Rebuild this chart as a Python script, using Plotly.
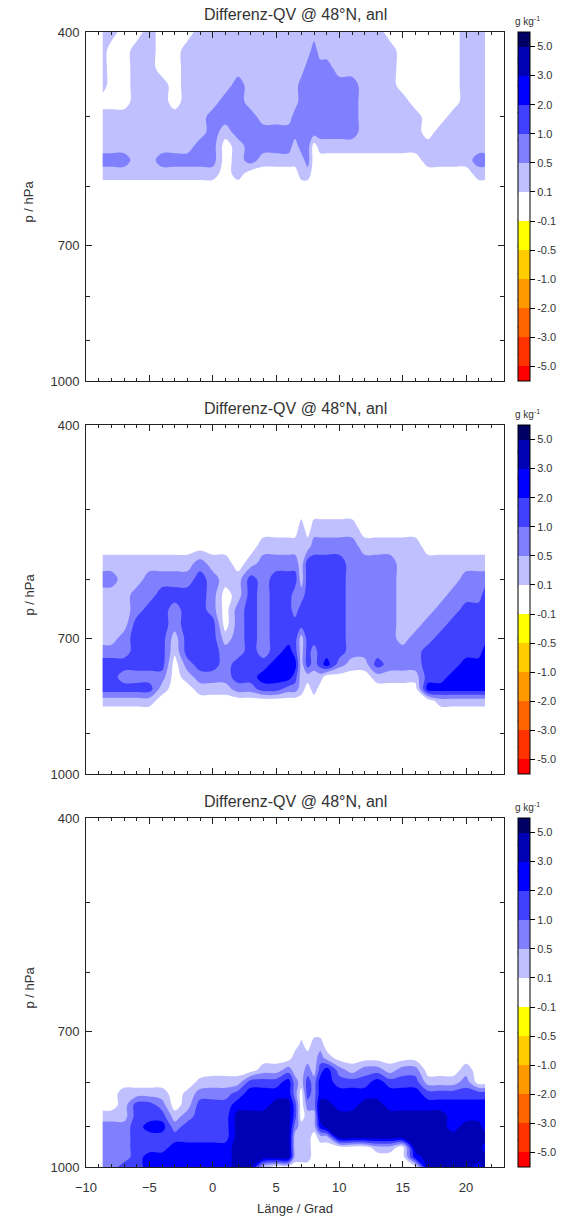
import numpy as np
import plotly.graph_objects as go

# ---------------- data (g/kg) ----------------
LON = [-8.7, -8, -7, -6, -5, -4, -3, -2, -1, 0, 1, 2, 3, 4, 5, 6, 6.5, 7, 7.5, 8,
       8.5, 9, 10, 11, 12, 13, 14, 15, 16, 17, 18, 19, 20, 21, 21.5]

P1 = [400, 420, 440, 460, 480, 500, 520, 540, 560, 580, 600, 1000]
QV1 = [
    [0.3, 0.3, 0, 0, 0.3, 0, 0, 0, 0.3, 0.3, 0.3, 0.3, 0.3, 0.3, 0.3, 0.3, 0.3, 0.3, 0.3, 0.3, 0.3, 0.3, 0.3, 0.3, 0.3, 0.3, 0, 0, 0, 0, 0, 0, 0.3, 0.3, 0.3],
    [0.3, 0, 0, 0.3, 0.3, 0, 0, 0.3, 0.3, 0.3, 0.3, 0.3, 0.3, 0.3, 0.3, 0.3, 0.3, 0.3, 0.3, 0.75, 0.3, 0.3, 0.3, 0.3, 0.3, 0.3, 0.3, 0, 0, 0, 0, 0, 0.3, 0.3, 0.3],
    [0.3, 0, 0, 0.3, 0.3, 0, 0, 0.3, 0.3, 0.3, 0.3, 0.3, 0.3, 0.3, 0.3, 0.3, 0.3, 0.3, 0.75, 0.75, 0.75, 0.75, 0.3, 0.3, 0.3, 0.3, 0.3, 0, 0, 0, 0, 0, 0.3, 0.3, 0.3],
    [0.3, 0, 0, 0.3, 0.3, 0.3, 0, 0.3, 0.3, 0.3, 0.3, 0.75, 0.3, 0.3, 0.3, 0.3, 0.3, 0.75, 0.75, 0.75, 0.75, 0.75, 0.75, 0.75, 0.3, 0.3, 0.3, 0, 0, 0, 0, 0, 0.3, 0.3, 0.3],
    [0, 0, 0, 0.3, 0.3, 0.3, 0, 0.3, 0.3, 0.3, 0.75, 0.75, 0.3, 0.3, 0.3, 0.3, 0.3, 0.75, 0.75, 0.75, 0.75, 0.75, 0.75, 0.75, 0.3, 0.3, 0.3, 0.3, 0, 0, 0, 0, 0.3, 0.3, 0.3],
    [0.3, 0.3, 0.3, 0.3, 0.3, 0.3, 0.3, 0.3, 0.3, 0.75, 0.75, 0.75, 0.75, 0.3, 0.3, 0.3, 0.75, 0.75, 0.75, 0.75, 0.75, 0.75, 0.75, 0.75, 0.3, 0.3, 0.3, 0.3, 0.3, 0, 0, 0.3, 0.3, 0.3, 0.3],
    [0.3, 0.3, 0.3, 0.3, 0.3, 0.3, 0.3, 0.3, 0.3, 0.75, 0.3, 0.75, 0.75, 0.75, 0.75, 0.75, 0.75, 0.75, 0.75, 0.75, 0.75, 0.75, 0.75, 0.75, 0.3, 0.3, 0.3, 0.3, 0.3, 0, 0.3, 0.3, 0.3, 0.3, 0.3],
    [0.3, 0.3, 0.3, 0.3, 0.3, 0.3, 0.3, 0.3, 0.75, 0.75, 0, 0.3, 0.75, 0.75, 0.75, 0.75, 0.3, 0.75, 0.75, 0, 0.3, 0.3, 0.3, 0.3, 0.3, 0.3, 0.3, 0.3, 0.3, 0.3, 0.3, 0.3, 0.3, 0.3, 0.3],
    [0.75, 0.75, 0.75, 0.3, 0.3, 0.75, 0.75, 0.75, 0.75, 0.75, 0, 0.3, 0.75, 0.3, 0.3, 0.3, 0.3, 0.3, 0.75, 0, 0, 0, 0, 0, 0, 0, 0, 0, 0, 0.3, 0.3, 0.3, 0.3, 0.75, 0.75],
    [0.3, 0.3, 0.3, 0.3, 0.3, 0.3, 0.3, 0.3, 0.3, 0.3, 0, 0.3, 0, 0, 0, 0, 0, 0.3, 0.3, 0, 0, 0, 0, 0, 0, 0, 0, 0, 0, 0, 0, 0, 0, 0.3, 0.3],
    [0] * 35,
    [0] * 35,
]

P2 = [400, 500, 525, 550, 575, 600, 625, 650, 675, 700, 725, 750, 775, 800, 825, 850, 1000]
QV2 = [
    [0] * 35,
    [0] * 35,
    [0, 0, 0, 0, 0, 0, 0, 0, 0, 0, 0, 0, 0, 0, 0, 0, 0, 0.3, 0, 0.3, 0.3, 0.3, 0.3, 0.3, 0, 0, 0, 0, 0, 0, 0, 0, 0, 0, 0],
    [0, 0, 0, 0, 0, 0, 0, 0, 0, 0, 0, 0, 0, 0.3, 0.3, 0.3, 0.3, 0.3, 0.3, 0.75, 0.75, 0.75, 0.75, 0.75, 0.3, 0.3, 0.3, 0.3, 0.3, 0, 0, 0, 0, 0, 0],
    [0.3, 0.3, 0.3, 0.3, 0.3, 0.3, 0.3, 0.3, 0.75, 0.3, 0.3, 0, 0.3, 0.75, 0.75, 0.75, 0.75, 0.3, 1.5, 1.5, 1.5, 1.5, 1.5, 0.75, 0.75, 0.75, 0.75, 0.3, 0.3, 0.3, 0.3, 0.3, 0.3, 0.3, 0.3],
    [0.75, 0.75, 0.3, 0.3, 0.75, 0.75, 0.75, 0.75, 1.5, 0.75, 0.3, 0.3, 1.5, 0.75, 1.5, 1.5, 1.5, 0.3, 1.5, 1.5, 1.5, 1.5, 1.5, 0.75, 0.75, 0.75, 0.75, 0.3, 0.3, 0.3, 0.3, 0.3, 0.75, 0.75, 0.75],
    [0.3, 0.3, 0.3, 0.75, 0.75, 1.5, 1.5, 1.5, 1.5, 0.75, 0, 0.3, 1.5, 0.75, 1.5, 1.5, 0.75, 0.75, 1.5, 1.5, 1.5, 1.5, 1.5, 0.75, 0.75, 0.75, 0.75, 0.3, 0.3, 0.3, 0.3, 0.75, 0.75, 0.75, 1.5],
    [0.3, 0.3, 0.3, 0.75, 1.5, 1.5, 0.75, 1.5, 1.5, 0.75, 0, 0.75, 1.5, 0.75, 1.5, 1.5, 0.75, 1.5, 1.5, 1.5, 1.5, 1.5, 1.5, 0.75, 0.75, 0.75, 0.75, 0.3, 0.3, 0.3, 0.75, 0.75, 1.5, 1.5, 1.5],
    [0.3, 0.3, 0.3, 1.5, 1.5, 1.5, 0.75, 1.5, 1.5, 1.5, 0, 0.75, 1.5, 0.75, 1.5, 1.5, 1.5, 1.5, 1.5, 1.5, 1.5, 1.5, 1.5, 0.75, 0.75, 0.75, 0.75, 0.3, 0.3, 0.75, 0.75, 1.5, 1.5, 1.5, 1.5],
    [0.3, 0.3, 0.75, 1.5, 1.5, 1.5, 0.3, 1.5, 1.5, 1.5, 0.3, 0.75, 1.5, 0.75, 1.5, 1.5, 1.5, 0.3, 1.5, 1.5, 1.5, 1.5, 1.5, 0.75, 0.75, 0.75, 0.75, 0.3, 0.75, 0.75, 1.5, 1.5, 1.5, 1.5, 1.5],
    [0.75, 0.75, 0.75, 1.5, 1.5, 1.5, 0.2, 1.5, 1.5, 1.5, 0.75, 0.75, 1.5, 0.75, 1.5, 2.5, 1.5, 0.3, 1.5, 0.75, 1.5, 1.5, 1.5, 0.75, 0.75, 0.75, 0.75, 0.75, 0.75, 1.5, 1.5, 1.5, 1.5, 1.5, 2.5],
    [1.5, 1.5, 1.5, 1.5, 1.5, 1.5, 0, 0.75, 1.5, 1.5, 0.75, 1.5, 1.5, 1.5, 2.5, 2.5, 2.5, 0.3, 1.5, 0.75, 1.5, 2.5, 0.75, 0.3, 0.3, 1.5, 0.75, 0.75, 0.75, 1.5, 1.5, 1.5, 2.5, 2.5, 2.5],
    [1.5, 1.5, 0.75, 0.75, 0.75, 0.75, 0, 0.3, 0.75, 0.75, 0.75, 1.5, 1.5, 2.5, 2.5, 2.5, 1.5, 0.3, 0.3, 0.3, 0.3, 0, 0, 0, 0, 0.3, 0.3, 0.3, 0.3, 1.5, 1.5, 2.5, 2.5, 2.5, 2.5],
    [1.5, 1.5, 1.5, 1.5, 1.5, 0.3, 0, 0, 0.3, 0.3, 0.3, 0.75, 0.75, 1.5, 1.5, 0.75, 0.75, 0.3, 0, 0.3, 0, 0, 0, 0, 0, 0, 0, 0, 0, 2.5, 2.5, 2.5, 2.5, 2.5, 2.5],
    [0.3, 0.3, 0.3, 0.3, 0.3, 0, 0, 0, 0, 0, 0, 0, 0, 0, 0, 0, 0, 0, 0, 0, 0, 0, 0, 0, 0, 0, 0, 0, 0, 0, 0.3, 0.3, 0.3, 0.3, 0.3],
    [0] * 35,
    [0] * 35,
]

P3 = [400, 700, 725, 750, 775, 800, 825, 850, 875, 900, 925, 950, 975, 1000]
QV3 = [
    [0] * 35,
    [0] * 35,
    [0, 0, 0, 0, 0, 0, 0, 0, 0, 0, 0, 0, 0, 0, 0, 0, 0, 0.2, 0, 0.3, 0.3, 0, 0, 0, 0, 0, 0, 0, 0, 0, 0, 0, 0, 0, 0],
    [0, 0, 0, 0, 0, 0, 0, 0, 0, 0, 0, 0, 0, 0, 0, 0, 0.3, 0.3, 0.3, 0.3, 0.75, 0.3, 0, 0, 0, 0, 0, 0, 0, 0, 0, 0, 0, 0, 0],
    [0, 0, 0, 0, 0, 0, 0, 0, 0, 0, 0, 0, 0, 0.3, 0.3, 0.75, 0.3, 0.3, 0.75, 0.3, 1.5, 2.5, 0.75, 0.3, 0.75, 0.75, 0.3, 0.75, 0.75, 0, 0, 0, 0.3, 0, 0],
    [0, 0, 0, 0, 0, 0, 0, 0, 0.2, 0.3, 0.3, 0.3, 1.5, 1.5, 1.5, 2.5, 0.75, 0.3, 1.5, 0.75, 2.5, 2.5, 1.5, 1.5, 1.5, 2.5, 1.5, 1.5, 1.5, 0.3, 0.3, 0.3, 0.75, 0, 0],
    [0, 0, 0.3, 0.3, 0.3, 0.3, 0, 0.2, 0.75, 0.75, 0.75, 1.5, 2.5, 2.5, 2.5, 2.5, 0.75, 0, 1.5, 0.75, 2.5, 2.5, 2.5, 2.5, 2.5, 2.5, 2.5, 2.5, 2.5, 1.5, 1.5, 1.5, 1.5, 1.5, 1.5],
    [0, 0, 0.3, 1.5, 1.5, 0.75, 0, 0.3, 1.5, 1.5, 1.5, 2.5, 2.5, 2.5, 4, 4, 1.5, 0, 0.75, 0.75, 4, 4, 2.5, 2.5, 4, 4, 2.5, 2.5, 2.5, 2.5, 2.5, 2.5, 2.5, 2.5, 2.5],
    [0.3, 0.3, 0.3, 1.5, 1.5, 1.5, 0.3, 0.75, 1.5, 1.5, 1.5, 4, 4, 4, 4, 4, 1.5, 0, 0.3, 0.3, 4, 4, 4, 4, 4, 4, 4, 4, 4, 4, 4, 2.5, 2.5, 2.5, 2.5],
    [0.75, 0.75, 0.75, 1.5, 2.5, 2.5, 0.75, 1.5, 1.5, 1.5, 1.5, 4, 4, 4, 4, 4, 0.75, 0.3, 0.3, 0.3, 2.5, 4, 4, 4, 4, 4, 4, 4, 4, 4, 4, 2.5, 4, 4, 2.5],
    [0.75, 0.75, 0.75, 1.5, 1.5, 1.5, 1.5, 1.5, 1.5, 1.5, 1.5, 4, 4, 4, 4, 4, 0.3, 0.3, 0.3, 0, 0.3, 0.3, 4, 4, 4, 4, 4, 4, 4, 4, 4, 4, 4, 4, 4],
    [0.75, 0.75, 0.75, 1.5, 1.5, 1.5, 2.5, 2.5, 2.5, 2.5, 2.5, 4, 4, 4, 4, 4, 0.3, 0.3, 0.3, 0, 0, 0, 0, 0, 0, 0.3, 0.3, 0, 4, 4, 4, 4, 4, 4, 2.5],
    [0.75, 0.75, 0.75, 1.5, 2.5, 2.5, 2.5, 2.5, 2.5, 2.5, 2.5, 4, 4, 4, 4, 4, 0.3, 0.3, 0.3, 0, 0, 0, 0, 0, 0, 0, 0, 0, 2.5, 4, 4, 4, 4, 4, 4],
    [0.75, 0.75, 1.5, 1.5, 2.5, 2.5, 2.5, 2.5, 2.5, 2.5, 2.5, 4, 4, 0.3, 0, 0, 0, 0, 0, 0, 0, 0, 0, 0, 0, 0, 0, 0, 0, 4, 4, 4, 4, 2.5, 4],
]

LEVELS = [-5, -3, -2, -1, -0.5, -0.1, 0.1, 0.5, 1, 2, 3, 5]
LEVEL_LABELS = ["-5.0", "-3.0", "-2.0", "-1.0", "-0.5", "-0.1", "0.1", "0.5", "1.0", "2.0", "3.0", "5.0"]
COLORS = ["#ff0000", "#ff3300", "#ff6600", "#ff9900", "#ffcc00", "#ffff00", "#ffffff",
          "#c0c0ff", "#8080ff", "#4040ff", "#0000ff", "#0000b4", "#000064"]
TITLE = "Differenz-QV @ 48°N, anl"

# ---------------- layout geometry ----------------
FIG_W, FIG_H = 569, 1221
M_L, M_R, M_T, M_B = 86, 54, 32, 54
PLOT_W = FIG_W - M_L - M_R
PLOT_H = FIG_H - M_T - M_B
PANEL_TOP = [32, 425, 818]
PANEL_H = 349
FONT = "Liberation Sans, Arial, Helvetica, sans-serif"
TXT = "#333333"
AX = "#222222"


def ypap(px):
    return (FIG_H - M_B - px) / PLOT_H


def xpap(px):
    return (px - M_L) / PLOT_W


# class-index space: level boundaries map to 0.5 ... 11.5, band k centred on k
BV = [-7.0] + LEVELS + [7.0]
BT = [k - 0.5 for k in range(len(BV))]
NCOL = len(COLORS)
WHITE_IDX = COLORS.index("#ffffff")
CS_FULL = [[k / (NCOL - 1), c] for k, c in enumerate(COLORS)]
POS_COLORS = COLORS[WHITE_IDX:]
CS_POS = [[k / (len(POS_COLORS) - 1), c] for k, c in enumerate(POS_COLORS)]
TICKV = [k + 0.5 for k in range(len(LEVELS))]

fig = go.Figure()
panels = [(P1, QV1), (P2, QV2), (P3, QV3)]
CB_X0, CB_X1 = 529, 541

for i, (pp, qq) in enumerate(panels):
    t = np.interp(np.array(qq, dtype=float), BV, BT)
    top = PANEL_TOP[i]
    xa = "x" if i == 0 else f"x{i+1}"
    ya = "y" if i == 0 else f"y{i+1}"
    # field (only the positive levels occur in the data)
    fig.add_trace(go.Contour(
        x=LON, y=pp, z=t, xaxis=xa, yaxis=ya,
        autocontour=False,
        contours=dict(start=WHITE_IDX + 0.5, end=NCOL - 1.5, size=1,
                      coloring="fill", showlines=False),
        line=dict(width=0, smoothing=1.0),
        colorscale=CS_POS, showscale=False, hoverinfo="skip",
    ))
    # colour key with the full level set (placed outside the axis range)
    fig.add_trace(go.Contour(
        x=[40, 41], y=[500, 600], z=[[0, NCOL - 1], [0, NCOL - 1]],
        xaxis=xa, yaxis=ya,
        autocontour=False,
        contours=dict(start=0.5, end=NCOL - 1.5, size=1, coloring="fill", showlines=False),
        line=dict(width=0),
        colorscale=CS_FULL, hoverinfo="skip",
        colorbar=dict(
            x=xpap(CB_X0), xanchor="left", xpad=0,
            y=ypap(top + PANEL_H / 2), yanchor="middle", ypad=0,
            len=PANEL_H / PLOT_H, lenmode="fraction",
            thickness=CB_X1 - CB_X0, thicknessmode="pixels",
            outlinewidth=1, outlinecolor="#000000",
            tickmode="array", tickvals=TICKV, ticktext=LEVEL_LABELS,
            ticks="outside", ticklen=5, tickwidth=1, tickcolor="#000000",
            tickfont=dict(family=FONT, size=11, color=TXT),
        ),
    ))

layout = dict(
    width=FIG_W, height=FIG_H,
    margin=dict(l=M_L, r=M_R, t=M_T, b=M_B, pad=0),
    paper_bgcolor="white", plot_bgcolor="white",
    showlegend=False,
    font=dict(family=FONT, size=13, color=TXT),
)

annotations = []
shapes = []
for i in range(3):
    top = PANEL_TOP[i]
    sfx = "" if i == 0 else str(i + 1)
    dom = [ypap(top + PANEL_H), ypap(top)]
    layout["xaxis" + sfx] = dict(
        domain=[0, 1], range=[-10, 23], anchor="y" + sfx,
        tickmode="linear", tick0=-10, dtick=5,
        ticks="inside", ticklen=6, tickwidth=1, tickcolor=AX,
        minor=dict(dtick=1, tick0=-10, ticks="inside", ticklen=3, tickwidth=1, tickcolor=AX),
        showline=True, linecolor=AX, linewidth=1, mirror="allticks",
        showgrid=False, zeroline=False,
        showticklabels=(i == 2),
        tickfont=dict(family=FONT, size=13, color=TXT),
        ticklabelstandoff=8,
    )
    layout["yaxis" + sfx] = dict(
        domain=dom, type="log", range=[np.log10(1000), np.log10(400)],
        anchor="x" + sfx,
        tickmode="array", tickvals=[400, 700, 1000], ticktext=["400", "700", "1000"],
        ticks="inside", ticklen=6, tickwidth=1, tickcolor=AX,
        minor=dict(tickmode="array", tickvals=[500, 600, 800, 900], ticks="inside",
                   ticklen=4, tickwidth=1, tickcolor=AX),
        showline=True, linecolor=AX, linewidth=1, mirror="allticks",
        showgrid=False, zeroline=False,
        tickfont=dict(family=FONT, size=13, color=TXT),
        ticklabelstandoff=3,
    )
    annotations.append(dict(
        text=TITLE, xref="paper", yref="paper", x=0.5, y=ypap(top - 17),
        xanchor="center", yanchor="middle", showarrow=False,
        font=dict(family=FONT, size=16, color=TXT)))
    annotations.append(dict(
        text="p / hPa", xref="paper", yref="paper", x=xpap(28), y=ypap(top + 169),
        xanchor="center", yanchor="middle", showarrow=False, textangle=-90,
        font=dict(family=FONT, size=13, color=TXT)))
    annotations.append(dict(
        text="g kg<sup>-1</sup>", xref="paper", yref="paper", x=xpap(539), y=ypap(top - 11),
        xanchor="center", yanchor="middle", showarrow=False,
        font=dict(family=FONT, size=10, color=TXT)))
    for k in range(1, NCOL):
        yk = ypap(top + k * PANEL_H / NCOL)
        shapes.append(dict(type="line", xref="paper", yref="paper",
                           x0=xpap(CB_X0), x1=xpap(CB_X1), y0=yk, y1=yk,
                           line=dict(color="#000000", width=1)))

annotations.append(dict(
    text="Länge / Grad", xref="paper", yref="paper", x=0.5, y=ypap(1208),
    xanchor="center", yanchor="middle", showarrow=False,
    font=dict(family=FONT, size=13, color=TXT)))

layout["annotations"] = annotations
layout["shapes"] = shapes
fig.update_layout(**layout)
fig.write_html("out.html")
